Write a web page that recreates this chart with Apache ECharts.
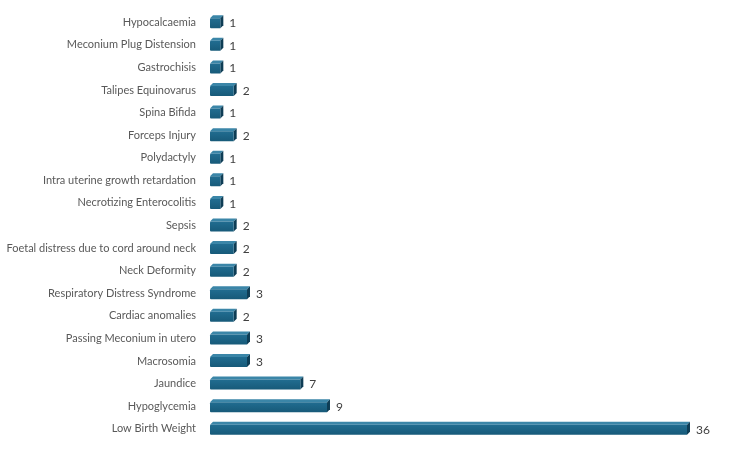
<!DOCTYPE html>
<html>
<head>
<meta charset="utf-8">
<script src="https://cdn.jsdelivr.net/npm/echarts@6/dist/echarts.min.js"></script>
<style>
html,body{margin:0;padding:0;background:#fff;}
#main{width:750px;height:449px;}
</style>
</head>
<body>
<div id="main"></div>
<script>
// categories from bottom to top
var categories = ['Low Birth Weight', 'Hypoglycemia', 'Jaundice', 'Macrosomia', 'Passing Meconium in utero',
	'Cardiac anomalies', 'Respiratory Distress Syndrome', 'Neck Deformity', 'Foetal distress due to cord around neck',
	'Sepsis', 'Necrotizing Enterocolitis', 'Intra uterine growth retardation', 'Polydactyly', 'Forceps Injury',
	'Spina Bifida', 'Talipes Equinovarus', 'Gastrochisis', 'Meconium Plug Distension', 'Hypocalcaemia'];
var counts = [36, 9, 7, 3, 3, 2, 3, 2, 2, 2, 1, 1, 1, 2, 1, 2, 1, 1, 1];

/*3D 立体条形*/
function renderBox(params, api) {
	var cat = api.value(0);
	var start = api.coord([0, cat]);
	var end = api.coord([api.value(1), cat]);
	var h = 10, d = 3;
	var x0 = start[0], x1 = end[0] - d, yc = start[1] + 1;
	var top = yc - h / 2, bot = yc + h / 2;
	return {
		type: 'group',
		children: [{
			type: 'polygon',
			shape: { points: [[x0, top], [x0 + d, top - d], [x1 + d, top - d], [x1, top]] },
			style: { fill: '#3b86a8' }
		}, {
			type: 'polygon',
			shape: { points: [[x1, top], [x1 + d, top - d], [x1 + d, bot - d], [x1, bot]] },
			style: { fill: '#0e3d55' }
		}, {
			type: 'rect',
			shape: { x: x0, y: top, width: x1 - x0, height: h, r: [1, 0, 0, 1] },
			style: {
				fill: new echarts.graphic.LinearGradient(0, 0, 0, 1, [
					{ offset: 0, color: '#216d91' },
					{ offset: 1, color: '#175a79' }
				])
			}
		}]
	};
}

var boxData = counts.map(function (v, i) { return [i, v]; });

var chart = echarts.init(document.getElementById('main'));
var option = {
	animation: false,
	grid: {
		left: 210,
		right: 60,
		top: 11,
		bottom: 9
	},
	xAxis: {
		type: 'value',
		min: 0,
		max: 36,
		show: false
	},
	yAxis: {
		type: 'category',
		data: categories,
		axisLine: { show: false },
		axisTick: { show: false },
		axisLabel: {
			color: '#595959',
			fontSize: 11,
			fontFamily: 'Lato',
			margin: 14,
			interval: 0
		}
	},
	series: [{
		type: 'custom',
		renderItem: renderBox,
		encode: { x: 1, y: 0 },
		data: boxData,
		z: 2
	}, {
		type: 'bar',
		data: counts,
		barWidth: 10,
		itemStyle: { color: 'rgba(0,0,0,0)' },
		label: {
			show: true,
			position: 'right',
			distance: 6,
			offset: [0, 1],
			color: '#404040',
			fontSize: 12,
			fontFamily: 'Lato'
		},
		z: 3
	}]
};
chart.setOption(option);
</script>
</body>
</html>
